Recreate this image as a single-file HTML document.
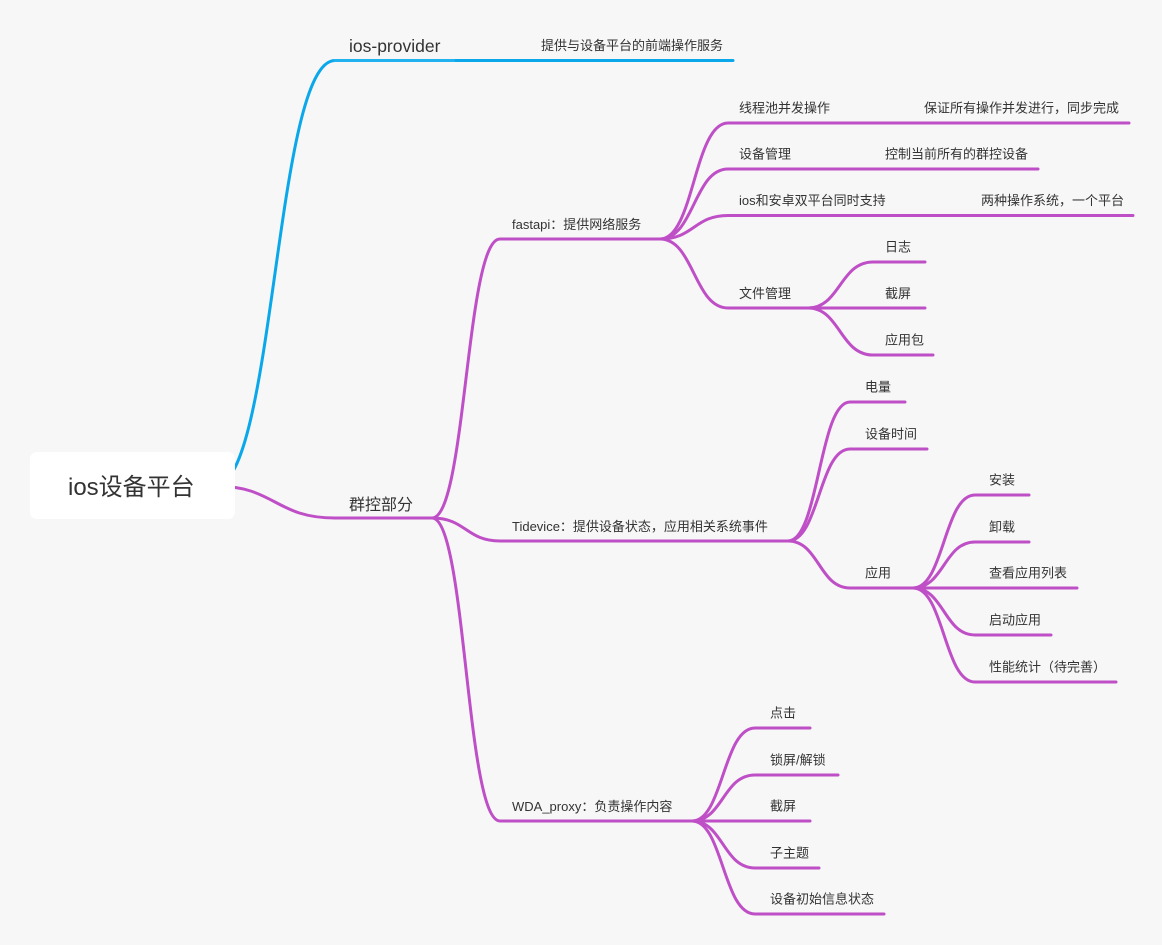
<!DOCTYPE html>
<html>
<head>
<meta charset="utf-8">
<style>
html,body{margin:0;padding:0;background:#f7f7f7;}
svg{display:block;}
text{font-family:"Liberation Sans","Noto Sans CJK SC",sans-serif;fill:#333333;}
</style>
</head>
<body>
<svg width="1162" height="945" viewBox="0 0 1162 945" xmlns="http://www.w3.org/2000/svg">
<rect x="0" y="0" width="1162" height="945" fill="#f7f7f7"/>

<!-- blue branch -->
<g fill="none" stroke="#0aa8ea" stroke-width="3" stroke-linecap="round">
  <path d="M215,486 C275,486 275,60.5 335,60.5"/>
  <path d="M335,60.5 L456,60.5" stroke="#22b2ef"/>
  <path d="M456,60.5 L733,60.5"/>
</g>

<!-- purple branches -->
<g fill="none" stroke="#bf4fc6" stroke-width="3" stroke-linecap="round">
  <!-- root to 群控部分 -->
  <path d="M215,486 C275,486 275,518 335,518 L432,518"/>
  <!-- 群控 children -->
  <path d="M432,518 C466,518 466,239 500,239 L660,239"/>
  <path d="M432,518 C466,518 466,541 500,541 L788,541"/>
  <path d="M432,518 C466,518 466,821 500,821 L692,821"/>

  <!-- fastapi children -->
  <path d="M660,239 C694,239 694,123 728,123 L1129,123"/>
  <path d="M660,239 C694,239 694,169 728,169 L1038,169"/>
  <path d="M660,239 C694,239 694,215.5 728,215.5 L1133,215.5"/>
  <path d="M660,239 C694,239 694,308 728,308 L808,308"/>

  <!-- 文件管理 children -->
  <path d="M808,308 C840,308 840,262 873,262 L925,262"/>
  <path d="M808,308 L925,308"/>
  <path d="M808,308 C840,308 840,355 873,355 L933,355"/>

  <!-- Tidevice children -->
  <path d="M788,541 C819,541 819,402 850,402 L905,402"/>
  <path d="M788,541 C819,541 819,449 850,449 L927,449"/>
  <path d="M788,541 C819,541 819,588 850,588 L913,588"/>

  <!-- 应用 children -->
  <path d="M913,588 C944,588 944,495 975,495 L1029,495"/>
  <path d="M913,588 C944,588 944,542 975,542 L1029,542"/>
  <path d="M913,588 L1077,588"/>
  <path d="M913,588 C944,588 944,635 975,635 L1051,635"/>
  <path d="M913,588 C944,588 944,682 975,682 L1116,682"/>

  <!-- WDA children -->
  <path d="M692,821 C723,821 723,728 755,728 L810,728"/>
  <path d="M692,821 C723,821 723,775 755,775 L838,775"/>
  <path d="M692,821 L810,821"/>
  <path d="M692,821 C723,821 723,868 755,868 L819,868"/>
  <path d="M692,821 C723,821 723,914 755,914 L884,914"/>
</g>

<!-- root node -->
<rect x="30" y="452" width="205" height="67" rx="7" ry="7" fill="#ffffff"/>
<text x="68" y="495" font-size="24">ios设备平台</text>

<!-- level 1 -->
<text x="349" y="52" font-size="17.5">ios-provider</text>
<text x="541" y="50" font-size="13">提供与设备平台的前端操作服务</text>
<text x="349" y="510" font-size="16">群控部分</text>

<!-- level 2 -->
<text x="512" y="229" font-size="13">fastapi：提供网络服务</text>
<text x="512" y="531" font-size="13">Tidevice：提供设备状态，应用相关系统事件</text>
<text x="512" y="811" font-size="13">WDA_proxy：负责操作内容</text>

<!-- fastapi children -->
<text x="739" y="112.5" font-size="13">线程池并发操作</text>
<text x="924" y="112.5" font-size="13">保证所有操作并发进行，同步完成</text>
<text x="739" y="158.5" font-size="13">设备管理</text>
<text x="885" y="158.5" font-size="13">控制当前所有的群控设备</text>
<text x="739" y="205" font-size="13">ios和安卓双平台同时支持</text>
<text x="981" y="205" font-size="13">两种操作系统，一个平台</text>
<text x="739" y="298" font-size="13">文件管理</text>
<text x="885" y="251.5" font-size="13">日志</text>
<text x="885" y="298" font-size="13">截屏</text>
<text x="885" y="344.5" font-size="13">应用包</text>

<!-- Tidevice children -->
<text x="865" y="391.5" font-size="13">电量</text>
<text x="865" y="438.5" font-size="13">设备时间</text>
<text x="865" y="577.5" font-size="13">应用</text>
<text x="989" y="484.5" font-size="13">安装</text>
<text x="989" y="531.5" font-size="13">卸载</text>
<text x="989" y="577.5" font-size="13">查看应用列表</text>
<text x="989" y="624.5" font-size="13">启动应用</text>
<text x="989" y="671.5" font-size="13">性能统计（待完善）</text>

<!-- WDA children -->
<text x="770" y="717.5" font-size="13">点击</text>
<text x="770" y="764.5" font-size="13">锁屏/解锁</text>
<text x="770" y="810.5" font-size="13">截屏</text>
<text x="770" y="857.5" font-size="13">子主题</text>
<text x="770" y="903.5" font-size="13">设备初始信息状态</text>
</svg>
</body>
</html>
